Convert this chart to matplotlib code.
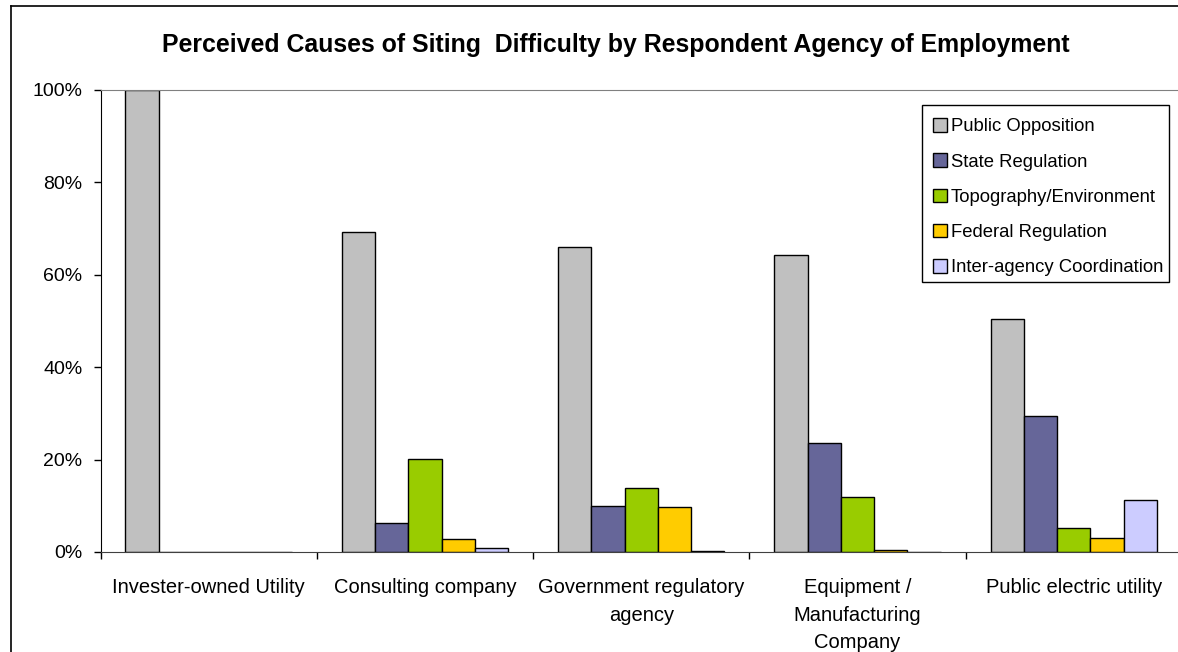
import numpy as np
import matplotlib
matplotlib.use("Agg")
import matplotlib.pyplot as plt
from matplotlib import ticker
from matplotlib.lines import Line2D
from matplotlib.patches import Rectangle

plt.rcParams["font.family"] = ["Liberation Sans", "DejaVu Sans"]

agencies = [
    "Invester-owned Utility",
    "Consulting company",
    "Government regulatory\nagency",
    "Equipment /\nManufacturing\nCompany",
    "Public electric utility",
]

causes = [
    "Public Opposition",
    "State Regulation",
    "Topography/Environment",
    "Federal Regulation",
    "Inter-agency Coordination",
]

# share of respondents (%) per agency, one list per cause
public_opposition = [100.0, 69.3, 66.0, 64.3, 50.5]
state_regulation = [0.0, 6.3, 9.9, 23.5, 29.4]
topography_environment = [0.0, 20.2, 13.9, 11.8, 5.3]
federal_regulation = [0.0, 2.9, 9.7, 0.5, 3.1]
interagency_coordination = [0.0, 0.9, 0.3, 0.0, 11.3]

colors = ["#C0C0C0", "#666699", "#99CC00", "#FFCC00", "#CCCCFF"]

series = [public_opposition, state_regulation, topography_environment,
          federal_regulation, interagency_coordination]

W, H = 1178, 652
fig = plt.figure(figsize=(W / 100, H / 100), dpi=100)
ax = fig.add_axes([100.5 / W, 100 / H, 1081.5 / W, 462 / H])

x = np.arange(len(agencies))
bw = 1 / 6.5
for j, (vals, c, name) in enumerate(zip(series, colors, causes)):
    ax.bar(x + (j - 2) * bw, vals, width=bw, color=c, edgecolor="black",
           linewidth=1.0, label=name, zorder=2)

ax.set_xlim(-0.5, len(agencies) - 0.5)
ax.set_ylim(0, 100)
ax.yaxis.set_major_locator(ticker.MultipleLocator(20))
ax.yaxis.set_major_formatter(ticker.FuncFormatter(lambda v, p: f"{v:.0f}%"))
ax.tick_params(axis="y", length=5, width=1, pad=8, labelsize=14, direction="out")

# group boundaries carry the ticks, names sit centred underneath
ax.set_xticks(np.arange(-0.5, len(agencies), 1.0))
ax.set_xticklabels([])
ax.set_xticks(x, minor=True)
ax.set_xticklabels(agencies, minor=True, fontsize=14.5, linespacing=1.55)
ax.tick_params(axis="x", which="major", length=5, width=1, direction="out")
ax.tick_params(axis="x", which="minor", length=0, pad=19)

ax.spines["left"].set_color("black")
ax.spines["bottom"].set_color("#404040")
ax.spines["top"].set_color("#808080")
ax.spines["right"].set_color("#808080")

fig.text(616 / W, 1 - 52 / H,
         "Perceived Causes of Siting  Difficulty by Respondent Agency of Employment",
         ha="center", va="baseline", fontsize=17.9, fontweight="bold")

# legend box drawn separately so the padding can be uneven
ax.add_patch(Rectangle((922 / W, 1 - 282 / H), 247 / W, 177 / H,
                       transform=fig.transFigure, facecolor="white",
                       edgecolor="black", lw=1.0, zorder=4, clip_on=False))
leg = ax.legend(loc="upper left", bbox_to_anchor=(933 / W, 1 - 118 / H),
                bbox_transform=fig.transFigure, borderaxespad=0,
                fontsize=13.3, frameon=False,
                handlelength=0.75, handleheight=0.75, handletextpad=0.2,
                labelspacing=0.98, borderpad=0)
leg.set_zorder(5)

# chart area border (left and top edges)
fig.add_artist(Line2D([11 / W, 11 / W], [0, 1 - 6 / H], transform=fig.transFigure,
                      color="black", lw=1.2))
fig.add_artist(Line2D([11 / W, 1], [1 - 6 / H, 1 - 6 / H], transform=fig.transFigure,
                      color="black", lw=1.2))

fig.savefig("out.png", dpi=100)
